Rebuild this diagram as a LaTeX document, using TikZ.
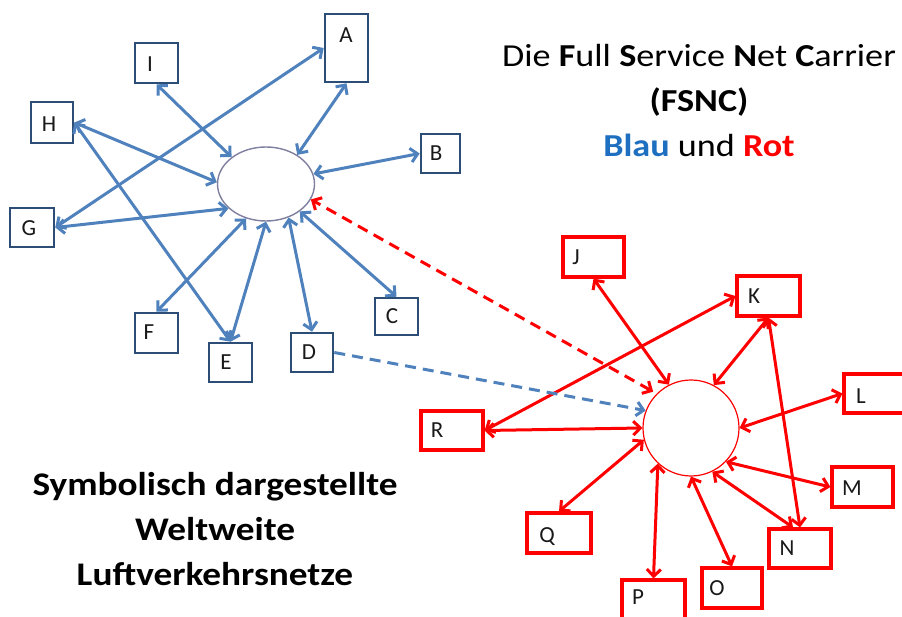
\documentclass[tikz,border=0pt]{standalone}
\usepackage{fontspec}
\setmainfont{Carlito}
\newfontfamily\widefont[FakeStretch=1.13]{Carlito}
\usetikzlibrary{arrows.meta,shapes.geometric,calc}
\definecolor{bline}{HTML}{4F81BD}
\definecolor{bframe}{HTML}{2C4D75}
\definecolor{ring}{HTML}{7F7F9F}
\definecolor{bluetxt}{HTML}{1F6FC0}
\begin{document}
\begin{tikzpicture}[x=1pt,y=-1pt,
  bluebox/.style={draw=bframe, line width=2.6pt, inner sep=0pt, fill=white},
  redbox/.style={draw=red, line width=3.2pt, inner sep=0pt, fill=white},
  lbl/.style={font=\fontsize{23}{23}\selectfont, text=black!90, inner sep=0pt, text height=15pt, text depth=0pt},
  barr/.style={draw=bline, line width=3pt, {Straight Barb[length=7pt,width=14pt]}-{Straight Barb[length=7pt,width=14pt]}},
  rarr/.style={draw=red, line width=3pt, {Straight Barb[length=7pt,width=14pt]}-{Straight Barb[length=7pt,width=14pt]}},
  dashline/.style={line width=3pt, dash pattern=on 11pt off 7pt},
  title/.style={font=\widefont\fontsize{32}{32}\selectfont, anchor=base, inner sep=0pt},
  sub/.style={font=\widefont\bfseries\fontsize{33}{33}\selectfont, anchor=base, inner sep=0pt}
]
\useasboundingbox (0,0) rectangle (902,617);
\clip (0,0) rectangle (902,617);

% hubs
\node[draw=ring, line width=1.4pt, ellipse, minimum width=97pt, minimum height=74pt, inner sep=0pt] (hubB) at (266,184) {};
\node[draw=red, line width=1.2pt, circle, minimum size=96pt, inner sep=0pt] (hubR) at (691,428) {};

% blue boxes
\node[bluebox, minimum width=43pt, minimum height=68pt] (A) at (346.5,48) {};
\node[bluebox, minimum width=43pt, minimum height=40pt] (I) at (156.5,63) {};
\node[bluebox, minimum width=42pt, minimum height=41pt] (H) at (52,122.5) {};
\node[bluebox, minimum width=39pt, minimum height=39pt] (B) at (440.5,153.5) {};
\node[bluebox, minimum width=44pt, minimum height=39pt] (G) at (32,227.5) {};
\node[bluebox, minimum width=43pt, minimum height=40pt] (F) at (156.5,333) {};
\node[bluebox, minimum width=43pt, minimum height=39pt] (E) at (230.5,362.5) {};
\node[bluebox, minimum width=42pt, minimum height=39pt] (D) at (312,352.5) {};
\node[bluebox, minimum width=43pt, minimum height=37pt] (C) at (396.5,316.5) {};

% red boxes
\node[redbox, minimum width=61pt, minimum height=40pt] (J) at (593.5,257) {};
\node[redbox, minimum width=63pt, minimum height=40pt] (K) at (768.5,296) {};
\node[redbox, minimum width=62pt, minimum height=39pt] (L) at (875,393.5) {};
\node[redbox, minimum width=61pt, minimum height=40pt] (M) at (862.5,487) {};
\node[redbox, minimum width=62pt, minimum height=39pt] (N) at (800,548.5) {};
\node[redbox, minimum width=60pt, minimum height=40pt] (O) at (732,588) {};
\node[redbox, minimum width=63pt, minimum height=39pt] (P) at (653.5,599.5) {};
\node[redbox, minimum width=64pt, minimum height=40pt] (Q) at (559,533) {};
\node[redbox, minimum width=62pt, minimum height=39pt] (R) at (452,430.5) {};

% labels
\node[lbl] (tA) at (346,35) {A};
\node[lbl] (tI) at (150,64) {I};
\node[lbl] (tH) at (49,124) {H};
\node[lbl] (tB) at (436,153) {B};
\node[lbl] (tG) at (29,228) {G};
\node[lbl] (tF) at (149,332) {F};
\node[lbl] (tE) at (226,362) {E};
\node[lbl] (tD) at (309,352) {D};
\node[lbl] (tC) at (392,316) {C};
\node[lbl] (tJ) at (576,257) {J};
\node[lbl] (tK) at (754,296) {K};
\node[lbl] (tL) at (861,396) {L};
\node[lbl] (tM) at (852,488) {M};
\node[lbl] (tN) at (787,548) {N};
\node[lbl] (tO) at (717,588) {O};
\node[lbl] (tP) at (638,597) {P};
\node[lbl] (tQ) at (547,535) {Q};
\node[lbl] (tR) at (437,430) {R};

% blue connectors
\draw[barr] (I.south) -- (hubB.142);
\draw[barr] (A.south) -- (hubB.43);
\draw[barr] (A.west) -- (G.east);
\draw[barr] (H.east) -- (hubB.178);
\draw[barr] (H.east) -- (E.north);
\draw[barr] (B.west) -- (hubB.12);
\draw[barr] (G.east) -- (hubB.213);
\draw[barr] (F.north) -- (hubB.240);
\draw[barr] (E.north) -- (hubB.270);
\draw[barr] (D.north) -- (hubB.304);
\draw[barr] (C.north) -- (hubB.321);

% red connectors
\draw[rarr] (J.south) -- (hubR.117);
\draw[rarr] (K.south) -- (hubR.62);
\draw[rarr] (K.west) -- (R.east);
\draw[rarr] (K.south) -- (N.north);
\draw[rarr] (L.west) -- (hubR.0);
\draw[rarr] (M.west) -- (hubR.316);
\draw[rarr] ($(N.north)+(-7,0)$) -- (hubR.296);
\draw[rarr] (O.north) -- (hubR.270);
\draw[rarr] (P.north) -- (hubR.227);
\draw[rarr] (Q.north) -- (hubR.194);
\draw[rarr] (R.east) -- (hubR.180);

% dashed links
\draw[red, dashline, {Straight Barb[length=7pt,width=14pt]}-{Straight Barb[length=7pt,width=14pt]}, shorten <=4pt] (hubR.135) -- (hubB.341);
\draw[bline, dashline, -{Straight Barb[length=7pt,width=14pt]}] (D.east) -- (hubR.159);

% texts
\node[title] (t1) at (699,67) {Die \textbf{F}ull \textbf{S}ervice \textbf{N}et \textbf{C}arrier};
\node[title] (t2) at (699,112) {\textbf{(FSNC)}};
\node[title] (t3) at (699,157) {\textcolor{bluetxt}{\textbf{Blau}} und \textcolor{red}{\textbf{Rot}}};
\node[sub] (s1) at (215,495) {Symbolisch dargestellte};
\node[sub] (s2) at (215,540) {Weltweite};
\node[sub] (s3) at (215,585) {Luftverkehrsnetze};
\end{tikzpicture}
\end{document}
